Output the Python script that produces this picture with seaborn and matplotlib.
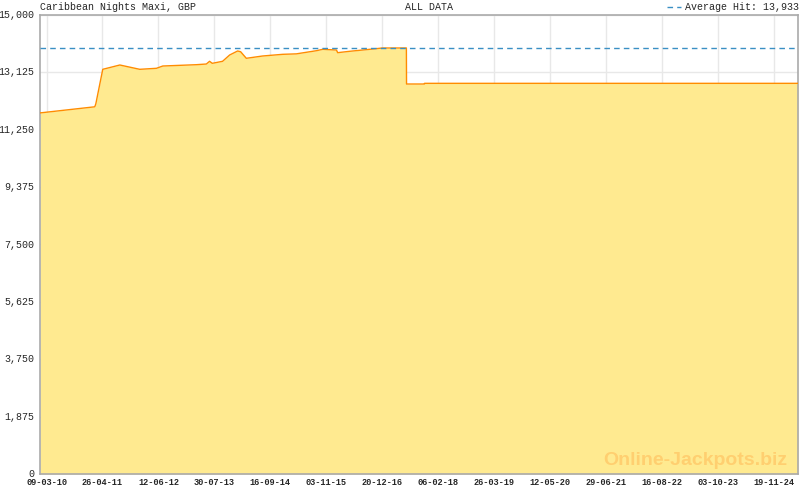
import pandas as pd
import matplotlib.pyplot as plt
import matplotlib.dates as mdates
import matplotlib.transforms as mtransforms
from matplotlib.ticker import FixedLocator, FuncFormatter
import seaborn as sns

# jackpot history
dates = ["2010-01-20", "2011-02-28", "2011-03-08", "2011-04-28", "2011-09-01",
         "2012-01-26", "2012-05-28", "2012-07-14", "2013-03-18", "2013-05-31",
         "2013-06-24", "2013-07-14", "2013-09-28", "2013-11-19", "2014-01-17",
         "2014-02-08", "2014-03-22", "2014-07-20", "2014-12-15", "2015-03-26",
         "2015-08-21", "2015-10-07", "2016-01-16", "2016-01-25", "2016-04-23",
         "2016-07-28", "2016-10-10", "2016-12-22", "2017-06-15", "2017-06-16",
         "2017-10-26", "2017-10-27", "2025-05-13"]
values = [11800, 12000, 12100, 13225, 13366,
          13225, 13258, 13333, 13376, 13398,
          13487, 13421, 13487, 13693, 13824,
          13800, 13585, 13660, 13715, 13730,
          13833, 13879, 13856, 13769, 13814,
          13856, 13889, 13922, 13922, 12745,
          12745, 12767, 12767]
average_hit = 13933
y_ticks = [0, 1875, 3750, 5625, 7500, 9375, 11250, 13125, 15000]
x_tick_labels = ["09-03-10", "26-04-11", "12-06-12", "30-07-13", "16-09-14",
                 "03-11-15", "20-12-16", "06-02-18", "26-03-19", "12-05-20",
                 "29-06-21", "16-08-22", "03-10-23", "19-11-24"]

df = pd.DataFrame({"date": pd.to_datetime(dates), "value": values})

sns.set_style("white")
plt.rcParams['font.family'] = ['Liberation Mono', 'DejaVu Sans Mono']

fig = plt.figure(figsize=(8, 4.9), dpi=100)
ax = fig.add_axes([40 / 800, 16 / 490, 758 / 800, 459 / 490])

ax.fill_between(df["date"], df["value"], 0, color="#FFEA90", lw=0, zorder=2)
sns.lineplot(data=df, x="date", y="value", ax=ax, color="#FF8C00",
             lw=1.0, zorder=3)
ax.axhline(average_hit, color="#3A8FC4", lw=1, ls=(0, (4, 3)), zorder=4)

ax.set_xlim(pd.Timestamp("2010-01-20"), pd.Timestamp("2025-05-13"))
ax.set_ylim(0, 15000)

# ticks
major = pd.to_datetime(x_tick_labels, format="%d-%m-%y")
ax.xaxis.set_major_locator(FixedLocator(mdates.date2num(major)))
ax.xaxis.set_major_formatter(FuncFormatter(
    lambda v, p: mdates.num2date(v).strftime("%d-%m-%y")))
minor = pd.date_range(major[0] - pd.Timedelta(days=59), periods=100,
                      freq="59D")
minor = minor[minor <= pd.Timestamp("2025-05-13")]
ax.xaxis.set_minor_locator(FixedLocator(mdates.date2num(minor)))
ax.set_yticks(y_ticks)
ax.set_yticklabels([f"{v:,}" for v in y_ticks])

ax.tick_params(axis="x", which="major", direction="in", length=5,
               width=1, color="#AAAAAA", labelsize=6.2, pad=3)
ax.tick_params(axis="x", which="minor", direction="in", length=3,
               width=1, color="#AAAAAA")
ax.tick_params(axis="y", length=0, labelsize=7.2, pad=4)
for lab in ax.get_xticklabels():
    lab.set_fontweight("bold")
# lift the y labels a little, as in the original
shift = mtransforms.ScaledTranslation(0, 1 / 100, fig.dpi_scale_trans)
for lab in ax.get_yticklabels():
    lab.set_transform(lab.get_transform() + shift)

ax.grid(True, axis="both", which="major", color="#E8E8E8", lw=1, zorder=0)
ax.set_axisbelow(True)
for s in ax.spines.values():
    s.set_color("#AAAAAA")
    s.set_linewidth(1.2)
ax.set_xlabel("")
ax.set_ylabel("")

# header texts
fig.text(40 / 800, 1 - 7 / 490, "Caribbean Nights Maxi, GBP", fontsize=7.2,
         va="center", ha="left")
fig.text(405 / 800, 1 - 7 / 490, "ALL DATA", fontsize=7.2, va="center",
         ha="left")
fig.text(799 / 800, 1 - 7 / 490, "Average Hit: 13,933", fontsize=7.2,
         va="center", ha="right")
fig.lines.append(plt.Line2D([667 / 800, 681 / 800],
                            [1 - 7 / 490, 1 - 7 / 490],
                            transform=fig.transFigure, color="#3A8FC4",
                            lw=1, ls=(0, (4, 3))))

# watermark
ax.text(0.9865, 0.02, "Online-Jackpots.biz", transform=ax.transAxes,
        ha="right", va="baseline", fontsize=14, fontweight="bold",
        family="Liberation Sans", color="#FFCF70", zorder=5)

plt.savefig("out.png", dpi=100)
